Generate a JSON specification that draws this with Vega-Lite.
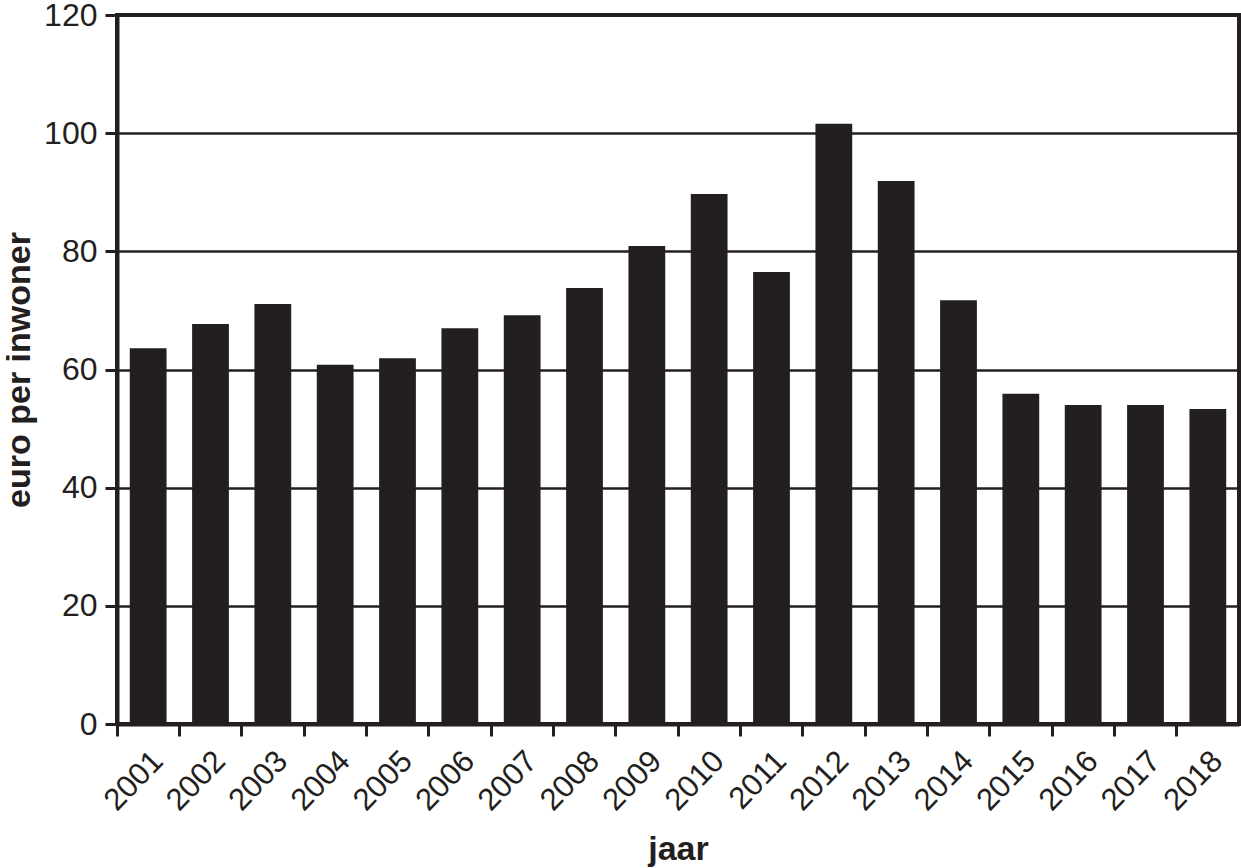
{
  "$schema": "https://vega.github.io/schema/vega-lite/v6.json",
  "width": 1122,
  "height": 709,
  "autosize": {"type": "none"},
  "padding": {"left": 117, "top": 15, "right": 2, "bottom": 144},
  "data": {
    "values": [
      {"jaar": "2001", "waarde": 63.6},
      {"jaar": "2002", "waarde": 67.7},
      {"jaar": "2003", "waarde": 71.1},
      {"jaar": "2004", "waarde": 60.8},
      {"jaar": "2005", "waarde": 61.9},
      {"jaar": "2006", "waarde": 67.0},
      {"jaar": "2007", "waarde": 69.2},
      {"jaar": "2008", "waarde": 73.8},
      {"jaar": "2009", "waarde": 80.9},
      {"jaar": "2010", "waarde": 89.7},
      {"jaar": "2011", "waarde": 76.5},
      {"jaar": "2012", "waarde": 101.6},
      {"jaar": "2013", "waarde": 91.9},
      {"jaar": "2014", "waarde": 71.7},
      {"jaar": "2015", "waarde": 55.9},
      {"jaar": "2016", "waarde": 54.0},
      {"jaar": "2017", "waarde": 54.0},
      {"jaar": "2018", "waarde": 53.3}
    ]
  },
  "mark": {"type": "bar", "color": "#231f20", "width": {"band": 0.59}},
  "encoding": {
    "x": {
      "field": "jaar",
      "type": "ordinal",
      "scale": {"paddingInner": 0, "paddingOuter": 0},
      "axis": {
        "title": "jaar",
        "bandPosition": 0,
        "labelOffset": 10,
        "labelAngle": -46,
        "labelAlign": "right",
        "labelBaseline": "middle",
        "labelPadding": 20,
        "labelFontSize": 31,
        "tickSize": 12,
        "tickWidth": 3,
        "domainWidth": 4,
        "titlePadding": 16
      }
    },
    "y": {
      "field": "waarde",
      "type": "quantitative",
      "scale": {"domain": [0, 120], "nice": false},
      "axis": {
        "title": "euro per inwoner",
        "values": [0, 20, 40, 60, 80, 100, 120],
        "tickSize": 12,
        "tickWidth": 3,
        "domainWidth": 4,
        "grid": true,
        "gridColor": "#231f20",
        "gridWidth": 2.5,
        "gridOpacity": 1,
        "labelPadding": 8,
        "labelFontSize": 32,
        "titlePadding": 7
      }
    }
  },
  "config": {
    "font": "Liberation Sans",
    "view": {"stroke": "#231f20", "strokeWidth": 4},
    "axis": {
      "domainColor": "#231f20",
      "tickColor": "#231f20",
      "labelColor": "#231f20",
      "titleColor": "#231f20",
      "labelFont": "Liberation Sans",
      "titleFont": "Liberation Sans",
      "titleFontSize": 34,
      "titleFontWeight": "bold"
    }
  }
}
